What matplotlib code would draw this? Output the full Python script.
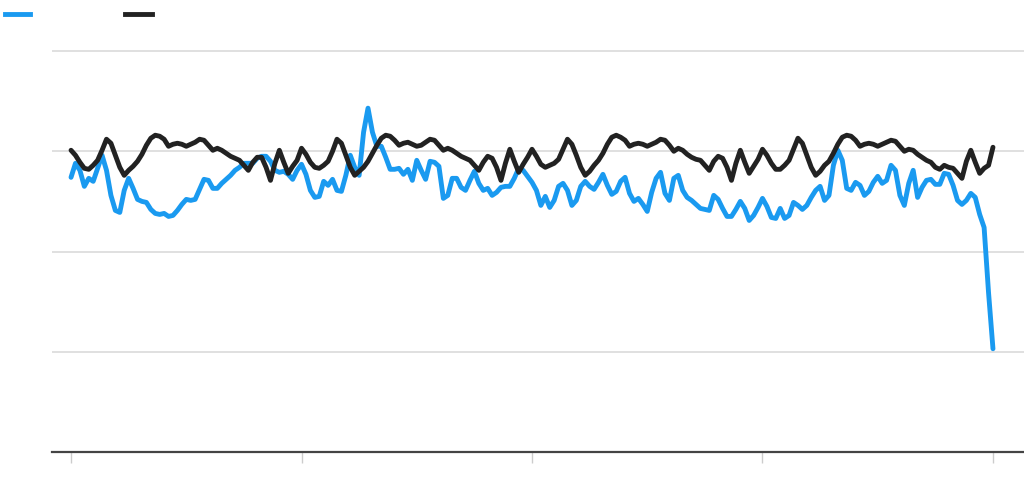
import numpy as np
import matplotlib.pyplot as plt
from matplotlib.lines import Line2D

# weekly values, 4 years
actual = [
    2.74, 2.88, 2.81, 2.65, 2.73, 2.70, 2.83, 2.96, 2.81, 2.56, 2.41, 2.39, 2.61,
    2.73, 2.63, 2.52, 2.50, 2.49, 2.42, 2.38, 2.37, 2.38, 2.35, 2.36, 2.41, 2.47,
    2.52, 2.51, 2.52, 2.62, 2.72, 2.71, 2.63, 2.63, 2.68, 2.72, 2.76, 2.81, 2.84,
    2.88, 2.88, 2.88, 2.93, 2.95, 2.95, 2.90, 2.81, 2.79, 2.80, 2.77, 2.72, 2.81,
    2.87, 2.77, 2.61, 2.54, 2.55, 2.70, 2.66, 2.72, 2.61, 2.60, 2.76, 2.96, 2.84,
    2.76, 3.19, 3.43, 3.19, 3.05, 3.05, 2.94, 2.82, 2.82, 2.83, 2.77, 2.82, 2.71,
    2.91, 2.81, 2.72, 2.90, 2.89, 2.85, 2.53, 2.56, 2.73, 2.73, 2.64, 2.61, 2.71,
    2.80, 2.68, 2.61, 2.63, 2.56, 2.59, 2.64, 2.65, 2.65, 2.73, 2.83, 2.81, 2.75,
    2.69, 2.61, 2.46, 2.55, 2.44, 2.51, 2.65, 2.68, 2.61, 2.46, 2.51, 2.65, 2.70,
    2.65, 2.62, 2.69, 2.77, 2.66, 2.57, 2.60, 2.70, 2.74, 2.58, 2.50, 2.53, 2.47,
    2.40, 2.59, 2.73, 2.79, 2.58, 2.51, 2.73, 2.76, 2.61, 2.54, 2.51, 2.47, 2.43,
    2.42, 2.41, 2.56, 2.52, 2.43, 2.35, 2.35, 2.42, 2.50, 2.43, 2.31, 2.36, 2.44,
    2.53, 2.45, 2.34, 2.33, 2.43, 2.33, 2.36, 2.49, 2.46, 2.42, 2.46, 2.54, 2.61,
    2.65, 2.51, 2.56, 2.86, 3.01, 2.91, 2.63, 2.61, 2.69, 2.66, 2.56, 2.60, 2.69,
    2.75, 2.68, 2.71, 2.86, 2.81, 2.56, 2.46, 2.68, 2.81, 2.54, 2.64, 2.71, 2.72,
    2.67, 2.67, 2.78, 2.77, 2.66, 2.51, 2.47, 2.51, 2.58, 2.54, 2.37, 2.24, 1.59,
    1.03,
]

average = [
    # year 1
    3.01, 2.96, 2.89, 2.83, 2.82, 2.86, 2.91, 3.01, 3.12, 3.08, 2.96, 2.84, 2.76,
    2.81, 2.85, 2.90, 2.97, 3.06, 3.13, 3.16, 3.15, 3.12, 3.05, 3.07, 3.08, 3.07,
    3.05, 3.07, 3.09, 3.12, 3.11, 3.06, 3.01, 3.03, 3.01, 2.98, 2.95, 2.93, 2.91,
    2.86, 2.81, 2.89, 2.94, 2.94, 2.84, 2.71, 2.88, 3.01, 2.89, 2.78, 2.85, 2.91,
    # year 2
    3.03, 2.97, 2.89, 2.84, 2.83, 2.86, 2.90, 3.00, 3.12, 3.08, 2.96, 2.84, 2.76,
    2.80, 2.84, 2.90, 2.98, 3.06, 3.13, 3.16, 3.15, 3.11, 3.06, 3.08, 3.09, 3.07,
    3.05, 3.06, 3.09, 3.12, 3.11, 3.06, 3.01, 3.03, 3.01, 2.98, 2.95, 2.93, 2.91,
    2.86, 2.81, 2.89, 2.95, 2.93, 2.84, 2.71, 2.88, 3.02, 2.90, 2.79, 2.87, 2.94,
    # year 3
    3.02, 2.95, 2.87, 2.84, 2.86, 2.88, 2.92, 3.02, 3.12, 3.07, 2.96, 2.84, 2.76,
    2.80, 2.86, 2.91, 2.98, 3.07, 3.14, 3.16, 3.14, 3.11, 3.05, 3.07, 3.08, 3.07,
    3.05, 3.07, 3.09, 3.12, 3.11, 3.06, 3.00, 3.03, 3.01, 2.97, 2.94, 2.92, 2.91,
    2.86, 2.81, 2.90, 2.95, 2.93, 2.84, 2.71, 2.88, 3.01, 2.89, 2.78, 2.85, 2.92,
    # year 4
    3.02, 2.96, 2.88, 2.82, 2.82, 2.86, 2.91, 3.02, 3.13, 3.08, 2.96, 2.84, 2.76,
    2.80, 2.86, 2.90, 2.98, 3.07, 3.14, 3.16, 3.15, 3.11, 3.05, 3.07, 3.08, 3.07,
    3.05, 3.07, 3.09, 3.11, 3.10, 3.05, 3.00, 3.02, 3.01, 2.97, 2.94, 2.91, 2.89,
    2.84, 2.82, 2.86, 2.84, 2.83, 2.78, 2.73, 2.90, 3.01, 2.89, 2.78, 2.83, 2.86,
    3.04,
]

weeks = np.arange(len(actual))
year_ticks = [0, 52, 104, 156, 208]

fig = plt.figure(figsize=(10.24, 4.94), dpi=100)
ax = fig.add_axes([0.0508, 0.085, 0.9492, 0.832])

ax.plot(weeks, actual, color='#1a9af0', lw=3.5, solid_joinstyle='round',
        solid_capstyle='round', zorder=3)
ax.plot(weeks, average, color='#222222', lw=3.5, solid_joinstyle='round',
        solid_capstyle='round', zorder=4)

ax.set_xlim(-4.29, 215.0)
ax.set_ylim(0, 4.1)
ax.set_yticks([1, 2, 3, 4])
ax.set_xticks(year_ticks)
ax.set_xticklabels([])
ax.set_yticklabels([])
ax.grid(axis='y', color='#dddddd', lw=1.3)
ax.set_axisbelow(True)
ax.tick_params(axis='y', length=0)
ax.tick_params(axis='x', length=8, width=1, color='#cccccc')
for s in ['top', 'right', 'left']:
    ax.spines[s].set_visible(False)
ax.spines['bottom'].set_color('#444444')
ax.spines['bottom'].set_linewidth(1.6)

# legend swatches
fig.add_artist(Line2D([5 / 1024, 30 / 1024], [1 - 14 / 494, 1 - 14 / 494],
                      color='#1a9af0', lw=3.5))
fig.add_artist(Line2D([125 / 1024, 152 / 1024], [1 - 14 / 494, 1 - 14 / 494],
                      color='#222222', lw=3.5))

fig.savefig('out.png', dpi=100)
